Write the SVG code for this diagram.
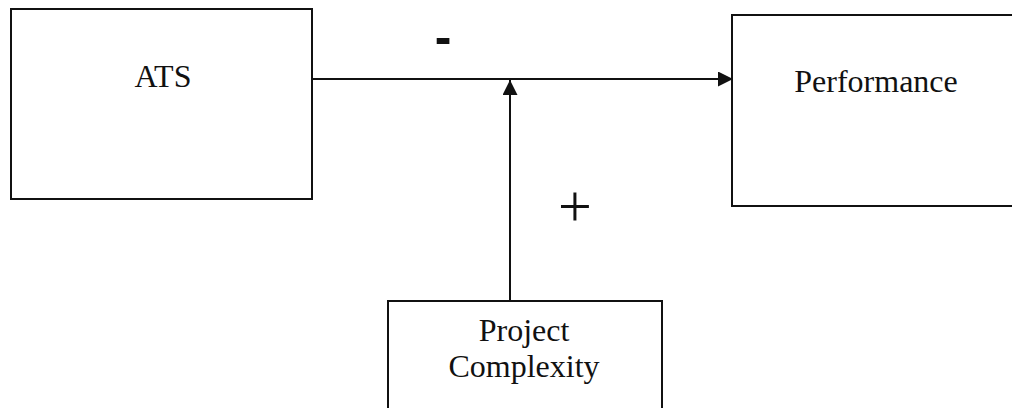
<svg xmlns="http://www.w3.org/2000/svg" width="1012" height="408" viewBox="0 0 1012 408">
  <style>
    .box { fill: none; stroke: #111; stroke-width: 2; }
    .label { font-family: "Liberation Serif", "Times New Roman", serif; font-size: 32px; fill: #111; text-anchor: middle; }
    .link { fill: none; stroke: #111; stroke-width: 2; }
  </style>
  <defs>
    <marker id="arrow" viewBox="0 0 15 15" refX="15" refY="7.5" markerWidth="15" markerHeight="15" markerUnits="userSpaceOnUse" orient="auto">
      <path d="M0,0 L15,7.5 L0,15 Z" fill="#111"/>
    </marker>
  </defs>
  <rect width="1012" height="408" fill="#ffffff"/>

  <g id="ats">
    <rect class="box" x="11" y="9" width="301" height="190"/>
    <text class="label" x="163" y="87">ATS</text>
  </g>

  <g id="performance">
    <rect class="box" x="732" y="15" width="290" height="191"/>
    <text class="label" x="876" y="92">Performance</text>
  </g>

  <g id="project-complexity">
    <rect class="box" x="388" y="301" width="274" height="120"/>
    <text class="label" x="524" y="341">Project</text>
    <text class="label" x="524" y="377">Complexity</text>
  </g>

  <g id="connectors">
    <line class="link" x1="312" y1="79" x2="733" y2="79" marker-end="url(#arrow)"/>
    <line class="link" x1="510" y1="301" x2="510" y2="80" marker-end="url(#arrow)"/>
    <text x="443" y="54" font-family="Liberation Sans, Arial, sans-serif" font-weight="bold" font-size="50" text-anchor="middle" fill="#111">-</text>
    <text x="575" y="226" font-family="Liberation Serif, Times New Roman, serif" font-size="60" text-anchor="middle" fill="#111">+</text>
  </g>
</svg>
